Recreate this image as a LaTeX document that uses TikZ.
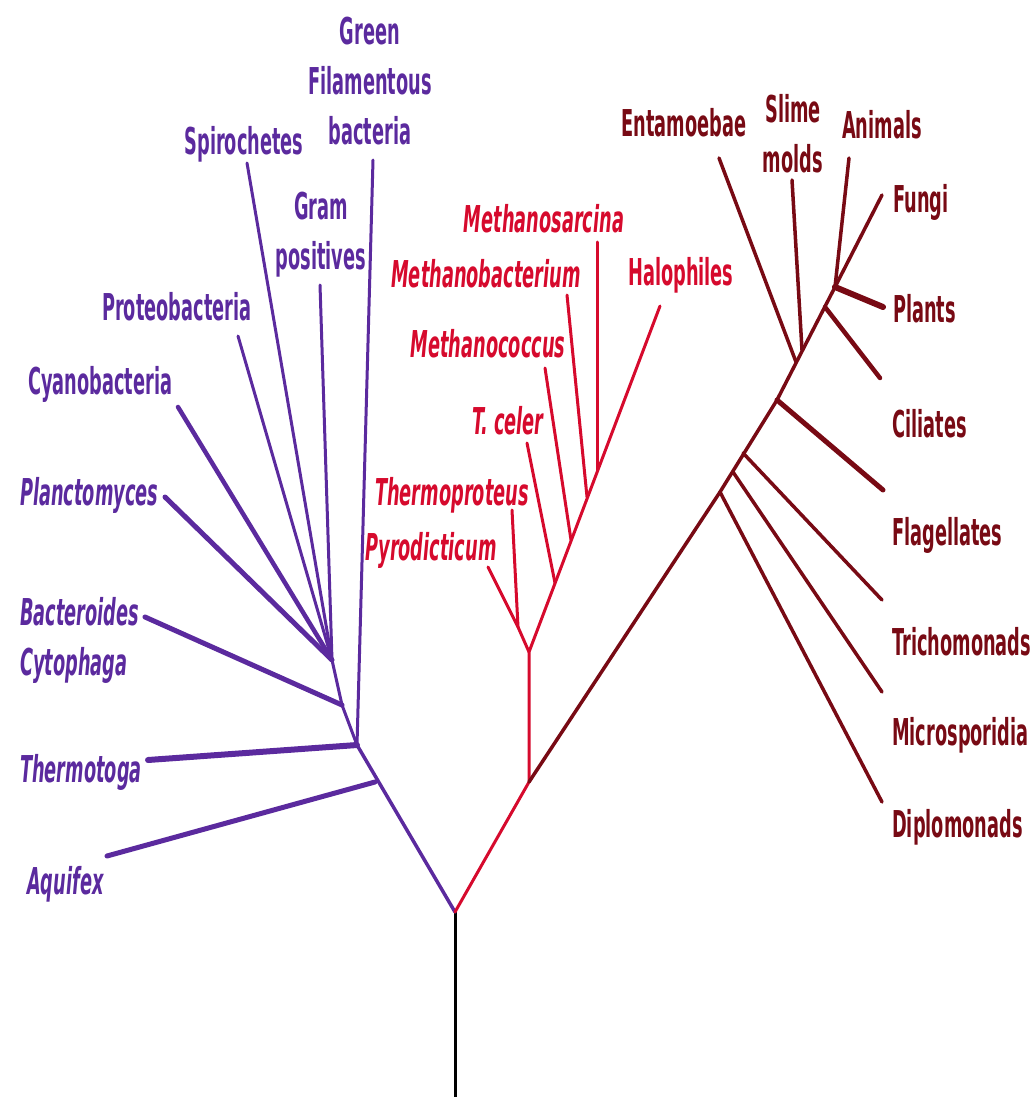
\documentclass[tikz,border=0pt]{standalone}
\usepackage{fontspec}
\setmainfont{DejaVu Sans}[FakeStretch=0.48]
\definecolor{bact}{HTML}{5B2A9E}
\definecolor{arch}{HTML}{D60A2D}
\definecolor{euk}{HTML}{780A14}
\tikzset{
  lbl/.style={inner sep=0pt, align=center, font=\fontsize{37}{50}\selectfont\bfseries},
  ilbl/.style={lbl, font=\fontsize{37}{50}\selectfont\bfseries\itshape},
  btxt/.style={text=bact}, atxt/.style={text=arch}, etxt/.style={text=euk},
  br/.style={draw=bact, line cap=round, line width=3pt},
  brw/.style={br, line width=5pt},
  ar/.style={draw=arch, line cap=round, line width=3pt},
  er/.style={draw=euk, line cap=round, line width=3.5pt},
  erw/.style={er, line width=5pt},
}
\begin{document}
\begin{tikzpicture}[x=1pt,y=-1pt]
\useasboundingbox (0,0) rectangle (1035,1102);

% ---- trunk and main junctions ----
\coordinate (root) at (455,912);
\coordinate (foot) at (455,1097);
\draw[line width=3pt] (root) -- (foot);

% ---- Bacteria ----
\coordinate (bJ)  at (357,745);
\coordinate (aqJ) at (375,782);
\coordinate (bdJ) at (342,705);
\coordinate (clJ) at (332,660);
\coordinate (aqE) at (107,856);
\coordinate (thE) at (148,760);
\coordinate (bdE) at (145,617);
\coordinate (plE) at (165,497);
\coordinate (cyE) at (178,407);
\coordinate (prE) at (238,336);
\coordinate (spE) at (247,163);
\coordinate (grE) at (320,285);
\coordinate (gfE) at (373,160);

\draw[br, line width=3.5pt] (root) -- (bJ);
\draw[brw] (aqJ) -- (aqE);
\draw[brw, line width=6pt] (bJ) -- (thE);
\draw[br] (bJ) -- (bdJ) -- (clJ);
\draw[brw] (bdJ) -- (bdE);
\draw[brw] (clJ) -- (plE);
\draw[brw, line width=4.5pt] (clJ) -- (cyE);
\draw[br] (clJ) -- (prE);
\draw[br] (clJ) -- (spE);
\draw[br] (clJ) -- (grE);
\draw[br] (bJ) -- (gfE);

% multi-line labels are placed by the baseline of their last line
\node[lbl,btxt,anchor=base] (gf) at (370,145) {Green\\Filamentous\\bacteria};
\node[lbl,btxt,anchor=base] (sp) at (244,155) {Spirochetes};
\node[lbl,btxt,anchor=base] (gr) at (321,269) {Gram\\positives};
\node[lbl,btxt,anchor=base west] (pr) at (102,320) {Proteobacteria};
\node[lbl,btxt,anchor=base west] (cy) at (28,394) {Cyanobacteria};
\node[ilbl,btxt,anchor=base west] (pl) at (20,505) {Planctomyces};
\node[ilbl,btxt,anchor=base west,align=left] (bd) at (20,675) {Bacteroides\\Cytophaga};
\node[ilbl,btxt,anchor=base west] (th) at (20,782) {Thermotoga};
\node[ilbl,btxt,anchor=base west] (aq) at (27,894) {Aquifex};

% ---- Archaea ----
\coordinate (aJ)  at (529,782);
\coordinate (pJ)  at (529,652);
\coordinate (ptJ) at (518,627);
\coordinate (pyE) at (488,567);
\coordinate (tpE) at (512,510);
\coordinate (tcJ) at (555,583);
\coordinate (mcJ) at (571,540);
\coordinate (mbJ) at (587,497);
\coordinate (msJ) at (597,470);
\coordinate (haE) at (660,306);
\coordinate (tcE) at (527,443);
\coordinate (mcE) at (545,368);
\coordinate (mbE) at (567,295);
\coordinate (msE) at (597,242);

\draw[ar] (root) -- (aJ) -- (pJ) -- (haE);
\draw[ar] (pJ) -- (ptJ) -- (pyE);
\draw[ar] (ptJ) -- (tpE);
\draw[ar] (tcJ) -- (tcE);
\draw[ar] (mcJ) -- (mcE);
\draw[ar] (mbJ) -- (mbE);
\draw[ar] (msJ) -- (msE);

\node[ilbl,atxt,anchor=base] (ms) at (544,232) {Methanosarcina};
\node[ilbl,atxt,anchor=base] (mb) at (486,287) {Methanobacterium};
\node[lbl,atxt,anchor=base west] (ha) at (628,285) {Halophiles};
\node[ilbl,atxt,anchor=base] (mc) at (488,357) {Methanococcus};
\node[ilbl,atxt,anchor=base] (tc) at (508,434) {T. celer};
\node[ilbl,atxt,anchor=base] (tp) at (452,505) {Thermoproteus};
\node[ilbl,atxt,anchor=base] (py) at (431,560) {Pyrodicticum};

% ---- Eukaryota ----
\coordinate (dpJ) at (720,492);
\coordinate (miJ) at (733,472);
\coordinate (trJ) at (743,453);
\coordinate (flJ) at (777,400);
\coordinate (enJ) at (796,362);
\coordinate (slJ) at (802,350);
\coordinate (ciJ) at (825,307);
\coordinate (anJ) at (835,287);
\coordinate (fuE) at (882,195);
\coordinate (dpE) at (882,802);
\coordinate (miE) at (882,692);
\coordinate (trE) at (882,600);
\coordinate (flE) at (883,490);
\coordinate (ciE) at (880,378);
\coordinate (plaE) at (883,307);
\coordinate (anE) at (849,158);
\coordinate (enE) at (719,158);
\coordinate (slE) at (792,180);

\draw[er] (aJ) -- (dpJ) -- (flJ) -- (anJ) -- (fuE);
\draw[er] (dpJ) -- (dpE);
\draw[er] (miJ) -- (miE);
\draw[er] (trJ) -- (trE);
\draw[erw] (flJ) -- (flE);
\draw[erw, line width=4.5pt] (ciJ) -- (ciE);
\draw[erw, line width=6pt] (anJ) -- (plaE);
\draw[er] (anJ) -- (anE);
\draw[er] (enJ) -- (enE);
\draw[er] (slJ) -- (slE);

\node[lbl,etxt,anchor=base] (en) at (684,137) {Entamoebae};
\node[lbl,etxt,anchor=base] (sl) at (793,172) {Slime\\molds};
\node[lbl,etxt,anchor=base] (an) at (882,139) {Animals};
\node[lbl,etxt,anchor=base west] (fu) at (893,212) {Fungi};
\node[lbl,etxt,anchor=base west] (pa) at (893,322) {Plants};
\node[lbl,etxt,anchor=base west] (ci) at (892,437) {Ciliates};
\node[lbl,etxt,anchor=base west] (fl) at (892,545) {Flagellates};
\node[lbl,etxt,anchor=base west] (tr) at (892,655) {Trichomonads};
\node[lbl,etxt,anchor=base west] (mi) at (892,745) {Microsporidia};
\node[lbl,etxt,anchor=base west] (dp) at (892,837) {Diplomonads};
\end{tikzpicture}
\end{document}
